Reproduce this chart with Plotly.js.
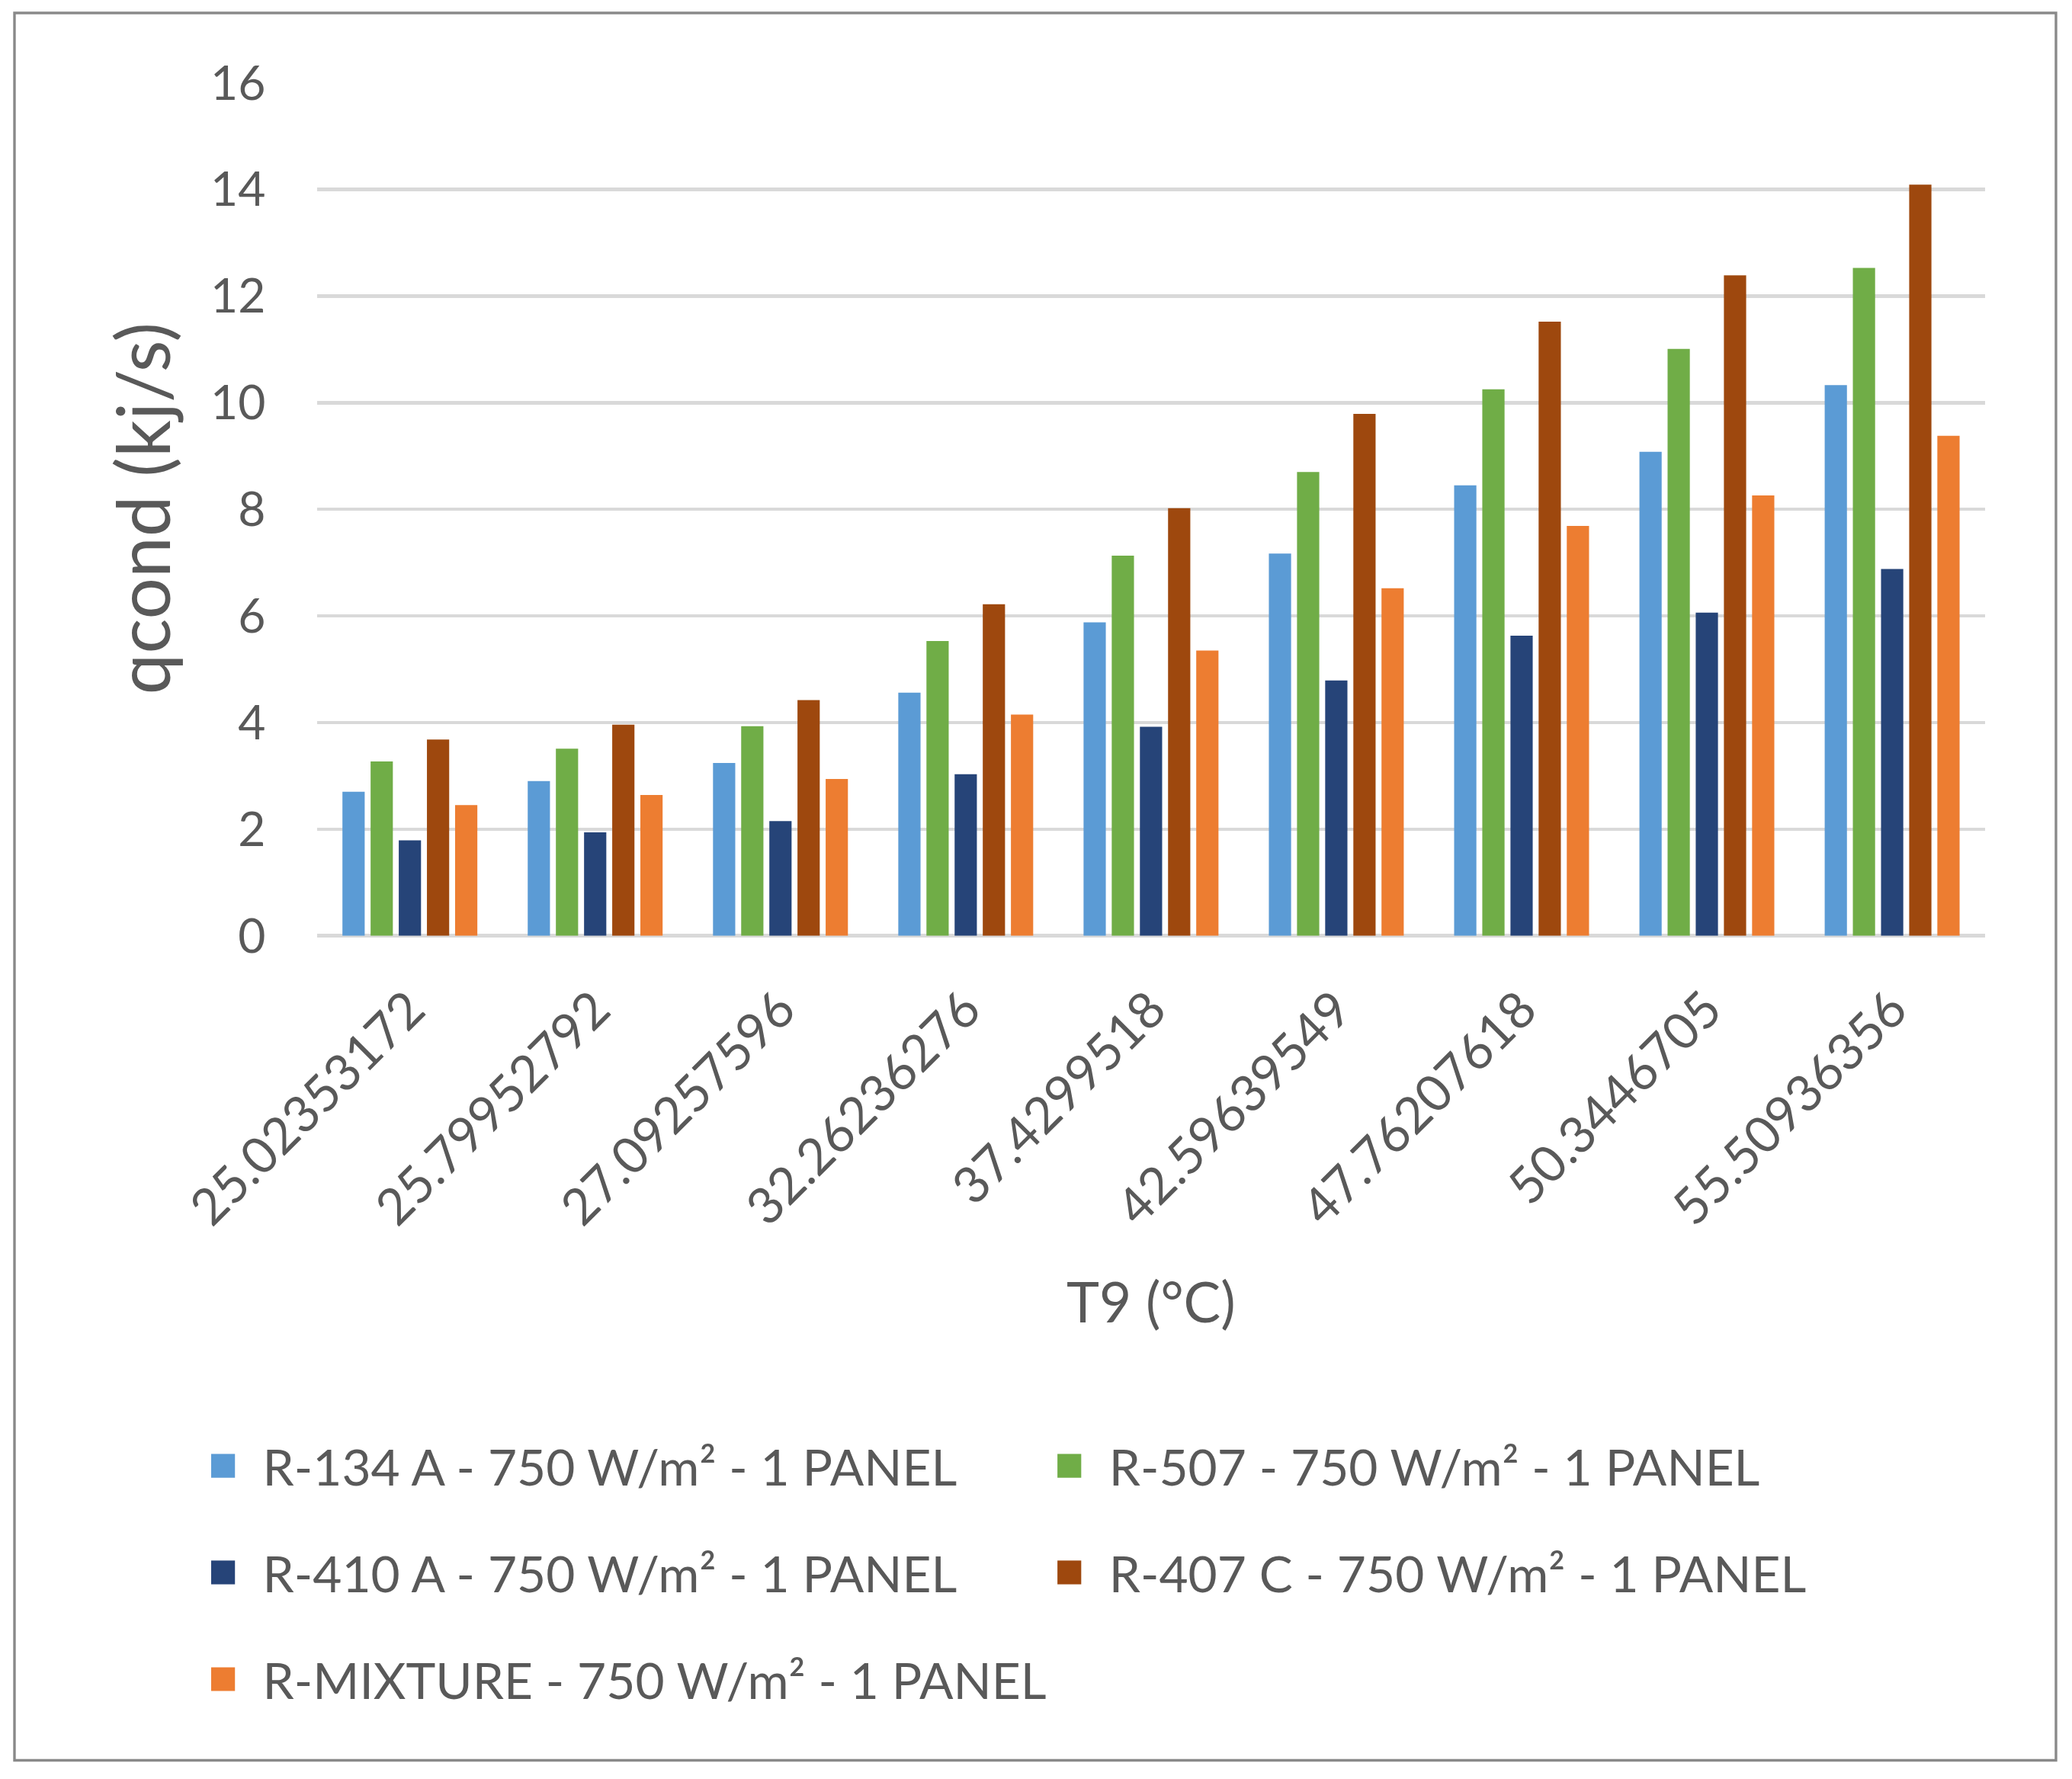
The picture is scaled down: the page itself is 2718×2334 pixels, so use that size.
<!DOCTYPE html>
<html>
<head>
<meta charset="utf-8">
<script src="https://cdn.plot.ly/plotly-3.0.1.min.js"></script>
<style>
  html, body { margin: 0; padding: 0; background: #fff; overflow: hidden; }
  /* chart is laid out small and zoomed up so the legend swatches get the right size */
  #wrap { width: 1045px; height: 898px; zoom: 2.601; }
</style>
</head>
<body>
<div id="wrap"><div id="chart" style="width:1045px;height:898px;"></div></div>
<script>
// T9 (°C) categories, as printed under the axis
var temps = ["25.02353172", "25.79952792", "27.09257596", "32.26236276", "37.4299518",
             "42.59639549", "47.76207618", "50.3446705", "55.50936356"];

// qcond (kj/s) per refrigerant
var r134a   = [2.70, 2.90, 3.24, 4.56, 5.88, 7.17, 8.45, 9.08, 10.33];
var r507    = [3.27, 3.51, 3.93, 5.53, 7.13, 8.70, 10.25, 11.01, 12.53];
var r410a   = [1.79, 1.94, 2.15, 3.03, 3.92, 4.79, 5.63, 6.06, 6.88];
var r407c   = [3.68, 3.96, 4.42, 6.22, 8.02, 9.79, 11.52, 12.39, 14.09];
var mixture = [2.45, 2.64, 2.94, 4.15, 5.35, 6.52, 7.69, 8.26, 9.38];

var names = ["R-134 A - 750 W/m² - 1 PANEL", "R-507 - 750 W/m² - 1 PANEL",
             "R-410 A - 750 W/m² - 1 PANEL", "R-407 C - 750 W/m² - 1 PANEL",
             "R-MIXTURE - 750 W/m² - 1 PANEL"];
var colors = ["#5B9BD5", "#70AD47", "#264478", "#9E480E", "#ED7D31"];
var legendOf = ["legend", "legend", "legend2", "legend2", "legend3"];

var W = 1045, H = 898;
var M = {l: 160, r: 44, t: 41, b: 425.5};
var pw = W - M.l - M.r, ph = H - M.t - M.b;

// pixel -> paper helpers for things placed outside the plot area
function px(x) { return (x - M.l) / pw; }
function py(y) { return 1 - (y - M.t) / ph; }

var series = [r134a, r507, r410a, r407c, mixture];
var data = series.map(function (vals, i) {
    return {
        type: "bar",
        x: temps,
        y: vals,
        name: names[i],
        legend: legendOf[i],
        marker: {color: colors[i], line: {width: 0}},
        hoverinfo: "x+y+name"
    };
});

var textColor = "#595959";
var legendFont = {family: "Lato", size: 25.3, color: textColor};
// one horizontal legend per row, two columns wide
function legendAt(rowCenter, entryWidth) {
    return {
        orientation: "h",
        x: px(92.5), xanchor: "left",
        y: py(rowCenter - 22.75), yanchor: "top",
        entrywidth: entryWidth,
        font: legendFont,
        bgcolor: "rgba(0,0,0,0)",
        borderwidth: 0,
        traceorder: "normal"
    };
}

var layout = {
    width: W,
    height: H,
    margin: M,
    paper_bgcolor: "#fff",
    plot_bgcolor: "#fff",
    font: {family: "Lato", color: textColor},
    barmode: "group",
    bargap: 0.24,
    bargroupgap: 0.21,
    showlegend: true,
    legend: legendAt(740, 381.8),
    legend2: legendAt(793.8, 381.8),
    legend3: legendAt(847.7, 0),
    xaxis: {
        type: "category",
        tickangle: -45,
        tickfont: {size: 25.5, color: textColor},
        ticks: "",
        ticklabelstandoff: 16,
        showgrid: false,
        showline: false,
        zeroline: false,
        title: {text: "T9 (°C)", font: {size: 28, color: textColor}, standoff: 25}
    },
    yaxis: {
        range: [0, 16.03],
        dtick: 2,
        tickfont: {size: 24, color: textColor},
        ticks: "",
        ticklabelstandoff: 25,
        showgrid: true,
        gridcolor: "#D9D9D9",
        gridwidth: 1.7,
        zeroline: true,
        zerolinecolor: "#D9D9D9",
        zerolinewidth: 1.7,
        showline: false,
        title: {text: "qcond (kj/s)", font: {size: 37, color: textColor}, standoff: 8}
    },
    shapes: [{
        type: "rect", xref: "paper", yref: "paper",
        x0: px(7.3), x1: px(1036.9), y0: py(888.9), y1: py(6.5),
        line: {color: "#898989", width: 1.3},
        fillcolor: "rgba(0,0,0,0)",
        layer: "above"
    }]
};

Plotly.newPlot("chart", data, layout, {staticPlot: true, displayModeBar: false});
</script>
</body>
</html>
